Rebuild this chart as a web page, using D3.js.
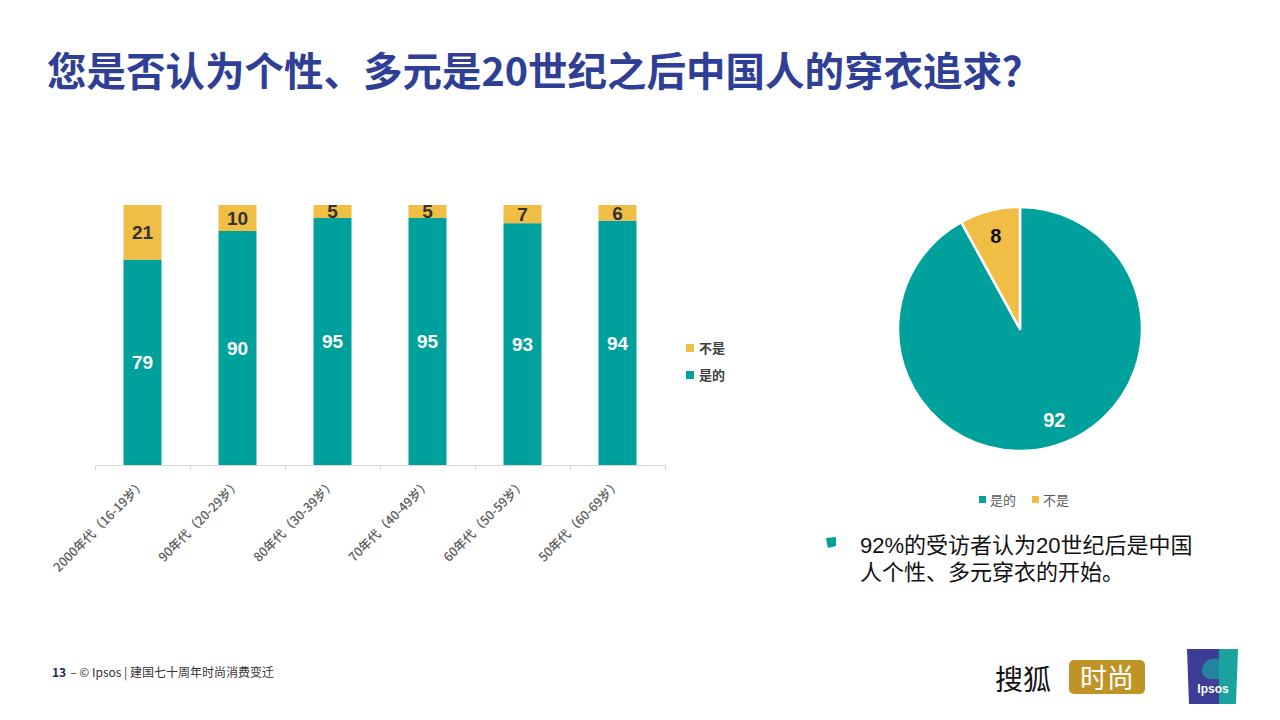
<!DOCTYPE html>
<html>
<head>
<meta charset="utf-8">
<script src="https://cdn.jsdelivr.net/npm/d3@7"></script>
<style>
  html, body { margin: 0; padding: 0; background: #fff; }
  svg { display: block; font-family: Arial, "Liberation Sans", "Noto Sans CJK SC", sans-serif; }
</style>
</head>
<body>
<div id="chart"></div>
<script>
"use strict";

// Data
const categories = ["2000年代（16-19岁）", "90年代（20-29岁）", "80年代（30-39岁）", "70年代（40-49岁）", "60年代（50-59岁）", "50年代（60-69岁）"];
const yesValues = [79, 90, 95, 95, 93, 94];
const noValues = [21, 10, 5, 5, 7, 6];
const seriesNames = ["是的", "不是"];
const pieValues = [92, 8];

const TEAL = "#00A19C";
const GOLD = "#F0BD45";
const CJK = "'Noto Sans CJK SC', 'Microsoft YaHei', sans-serif";

const width = 1280, height = 720;
const svg = d3.select("#chart").append("svg")
    .attr("width", width)
    .attr("height", height);

// Title
svg.append("text")
    .attr("x", 47)
    .attr("y", 86)
    .attr("font-family", CJK)
    .attr("font-weight", 700)
    .attr("font-size", 39.5)
    .attr("fill", "#2F3F96")
    .text("您是否认为个性、多元是20世纪之后中国人的穿衣追求？");

// ---------- Stacked bar chart ----------
const x = d3.scaleBand().domain(categories).range([95, 665]).paddingInner(0.6).paddingOuter(0.3);
const y = d3.scaleLinear().domain([0, 100]).range([465, 205]);

const rows = categories.map((c, i) => ({ cat: c, yes: yesValues[i], no: noValues[i] }));
const stack = d3.stack().keys(["yes", "no"])(rows);
const colors = { yes: TEAL, no: GOLD };

const bars = svg.append("g");
stack.forEach(layer => {
    bars.selectAll(null)
        .data(layer)
        .join("rect")
        .attr("x", d => x(d.data.cat))
        .attr("y", d => y(d[1]))
        .attr("width", x.bandwidth())
        .attr("height", d => y(d[0]) - y(d[1]))
        .attr("fill", colors[layer.key]);

    bars.selectAll(null)
        .data(layer)
        .join("text")
        .attr("x", d => x(d.data.cat) + x.bandwidth() / 2)
        .attr("y", d => (y(d[0]) + y(d[1])) / 2)
        .attr("dy", "0.36em")
        .attr("text-anchor", "middle")
        .attr("font-weight", 700)
        .attr("font-size", 19)
        .attr("fill", layer.key === "yes" ? "#fff" : "#333")
        .text(d => d.data[layer.key]);
});

// Category axis (boundary ticks between bands, like Excel)
const axisG = svg.append("g");
axisG.append("line")
    .attr("x1", 95).attr("x2", 665)
    .attr("y1", 465.5).attr("y2", 465.5)
    .attr("stroke", "#D9D9D9");
const step = x.step();
d3.range(categories.length + 1).forEach(i => {
    const tx = Math.round(95 + i * step) + 0.5;
    axisG.append("line")
        .attr("x1", tx).attr("x2", tx)
        .attr("y1", 465).attr("y2", 470)
        .attr("stroke", "#D9D9D9");
});
axisG.selectAll("text.cat")
    .data(categories)
    .join("text")
    .attr("class", "cat")
    .attr("transform", d => `translate(${x(d) + x.bandwidth() / 2 + 4},${485}) rotate(-45)`)
    .attr("text-anchor", "end")
    .attr("font-family", CJK)
    .attr("font-weight", 500)
    .attr("font-size", 12.5)
    .attr("fill", "#595959")
    .text(d => d);

// Bar legend (stack order: top item first)
const barLegend = svg.append("g").attr("transform", "translate(686,348)");
[{ name: seriesNames[1], color: GOLD }, { name: seriesNames[0], color: TEAL }].forEach((d, i) => {
    barLegend.append("rect")
        .attr("x", 0).attr("y", i * 27 - 4)
        .attr("width", 8).attr("height", 8)
        .attr("fill", d.color);
    barLegend.append("text")
        .attr("x", 13).attr("y", i * 27)
        .attr("dy", "0.35em")
        .attr("font-family", CJK)
        .attr("font-weight", 700)
        .attr("font-size", 13)
        .attr("fill", "#404040")
        .text(d.name);
});

// ---------- Pie chart ----------
const cx = 1020, cy = 329, r = 122;
const pie = d3.pie().sort(null).value(d => d);
const arcs = pie(pieValues);
const arc = d3.arc().innerRadius(0).outerRadius(r);
const labelArc = d3.arc().innerRadius(r * 0.8).outerRadius(r * 0.8);
const pieColors = [TEAL, GOLD];

const pieG = svg.append("g").attr("transform", `translate(${cx},${cy})`);
pieG.selectAll("path")
    .data(arcs)
    .join("path")
    .attr("d", arc)
    .attr("fill", (d, i) => pieColors[i])
    .attr("stroke", "#fff")
    .attr("stroke-width", 2.5)
    .attr("stroke-linejoin", "round");

pieG.selectAll("text")
    .data(arcs)
    .join("text")
    .attr("transform", (d, i) => {
        const [px, py] = labelArc.centroid(d);
        return i === 0 ? `translate(${px + 10},${py - 4})` : `translate(${px},${py + 1})`;
    })
    .attr("dy", "0.36em")
    .attr("text-anchor", "middle")
    .attr("font-weight", 700)
    .attr("font-size", 20)
    .attr("fill", (d, i) => i === 0 ? "#fff" : "#111")
    .text(d => d.data);

// Pie legend
const pieLegend = svg.append("g").attr("transform", "translate(979,500)");
let lx = 0;
seriesNames.forEach((name, i) => {
    pieLegend.append("rect")
        .attr("x", lx).attr("y", -4)
        .attr("width", 7).attr("height", 7)
        .attr("fill", pieColors[i]);
    pieLegend.append("text")
        .attr("x", lx + 11).attr("y", 0)
        .attr("dy", "0.35em")
        .attr("font-family", CJK)
        .attr("font-size", 13)
        .attr("fill", "#595959")
        .text(name);
    lx += 53;
});

// Bullet note (Latin primary font keeps the line boxes tight)
svg.append("path")
    .attr("d", "M826,538 L836,537 L836,546 L828,548 Z")
    .attr("fill", TEAL);
const noteLines = ["92%的受访者认为20世纪后是中国", "人个性、多元穿衣的开始。"];
svg.selectAll("text.note")
    .data(noteLines)
    .join("text")
    .attr("class", "note")
    .attr("x", 860)
    .attr("y", (d, i) => 553 + i * 27)
    .attr("font-family", "'Liberation Sans', 'Noto Sans CJK SC', sans-serif")
    .attr("font-size", 22)
    .attr("fill", "#111")
    .text(d => d);

// ---------- Footer ----------
const foot = svg.append("text")
    .attr("x", 52).attr("y", 677)
    .attr("font-family", CJK)
    .attr("font-size", 12)
    .attr("fill", "#333");
foot.append("tspan").attr("font-weight", 700).attr("fill", "#1F2A5C").text("13");
foot.append("tspan").attr("dx", 4).text("–  © Ipsos | 建国七十周年时尚消费变迁");

// Sohu fashion logo
svg.append("text")
    .attr("x", 995).attr("y", 690)
    .attr("font-family", CJK)
    .attr("font-size", 28)
    .attr("fill", "#111")
    .text("搜狐");
svg.append("rect")
    .attr("x", 1069).attr("y", 660)
    .attr("width", 76).attr("height", 34)
    .attr("rx", 5)
    .attr("fill", "#BF9326");
svg.append("text")
    .attr("x", 1107).attr("y", 688)
    .attr("text-anchor", "middle")
    .attr("font-family", CJK)
    .attr("font-size", 27)
    .attr("fill", "#fff")
    .text("时尚");

// Ipsos logo
const ip = svg.append("g").attr("transform", "translate(1187,649)");
ip.append("path").attr("d", "M0,0 H32 V55 H2 Z").attr("fill", "#3B3D96");
ip.append("path").attr("d", "M32,0 H51 L49,55 H32 Z").attr("fill", "#1AA39E");
ip.append("path")
    .attr("d", "M22,30 C14,28 12,18 20,12 C27,7 38,10 38,19 C38,24 35,26 34,30 Z")
    .attr("fill", "#1AA39E").attr("opacity", 0.7);
ip.append("text")
    .attr("x", 26).attr("y", 44)
    .attr("text-anchor", "middle")
    .attr("font-family", "Arial, sans-serif")
    .attr("font-weight", 700)
    .attr("font-size", 12)
    .attr("fill", "#fff")
    .text("Ipsos");
</script>
</body>
</html>
